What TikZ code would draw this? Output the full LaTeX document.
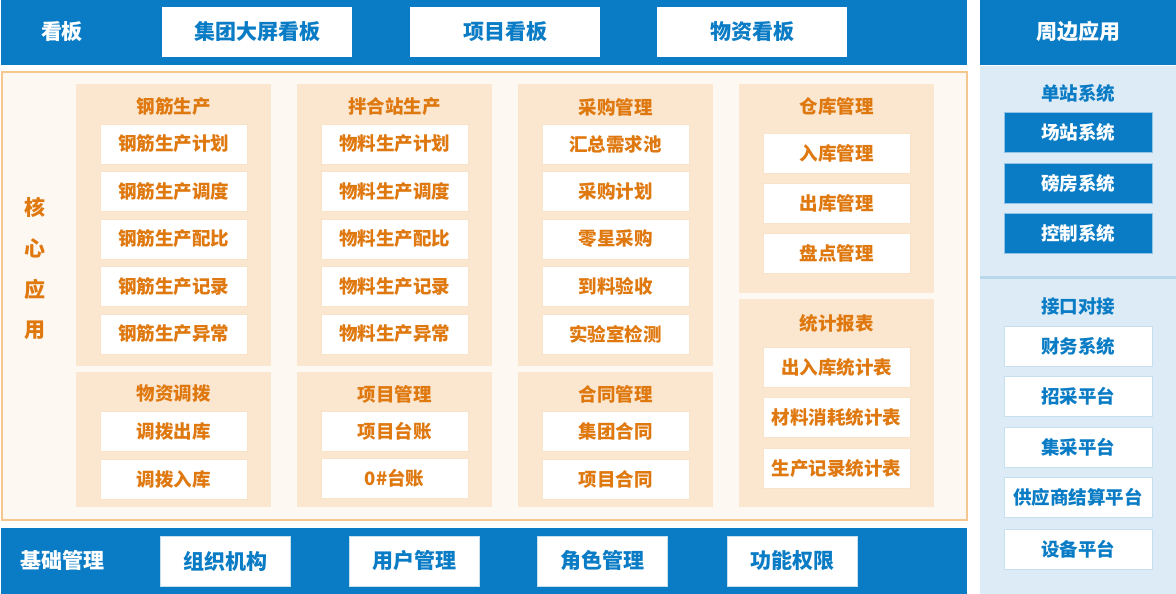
\documentclass[tikz,border=0pt]{standalone}
\usepackage{fontspec}
\setmainfont{Noto Sans CJK SC}
\definecolor{kblue}{HTML}{0A7CC5}
\definecolor{korange}{HTML}{DF780F}
\definecolor{kgroup}{HTML}{FBE7D0}
\definecolor{kcore}{HTML}{FDF8F1}
\definecolor{kcoreline}{HTML}{F5C68E}
\definecolor{kitemline}{HTML}{F8E2C8}
\definecolor{klight}{HTML}{DCEBF5}
\definecolor{ksep}{HTML}{B8D7EB}
\definecolor{kwline}{HTML}{C6DFEF}
\definecolor{kbline}{HTML}{8FC3E8}
\tikzset{
  x=1pt, y=-1pt,
  bigfont/.style={font=\fontsize{21}{24}\selectfont\bfseries},
  midfont/.style={font=\fontsize{18.5}{22}\selectfont\bfseries},
  bar/.style={fill=kblue, draw=none},
  topbox/.style={fill=white, draw=none, text=kblue, bigfont, minimum width=190pt, minimum height=50pt, inner sep=0pt},
  botbox/.style={fill=white, draw=kwline, line width=0.6pt, text=kblue, bigfont, minimum width=130pt, minimum height=50pt, inner sep=0pt},
  barlabel/.style={text=white, bigfont, inner sep=0pt},
  group/.style={fill=kgroup, draw=none},
  gtitle/.style={text=korange, midfont, inner sep=0pt},
  item/.style={fill=white, draw=kitemline, line width=0.6pt, text=korange, midfont, minimum width=147pt, minimum height=40pt, inner sep=0pt},
  bitem/.style={fill=kblue, draw=kbline, line width=0.6pt, text=white, midfont, minimum width=148pt, minimum height=40pt, inner sep=0pt},
  witem/.style={fill=white, draw=kwline, line width=0.6pt, text=kblue, midfont, minimum width=148pt, minimum height=40pt, inner sep=0pt},
  rtitle/.style={text=kblue, midfont, inner sep=0pt},
  vlabel/.style={text=korange, bigfont, inner sep=0pt},
}
\begin{document}
\begin{tikzpicture}
\useasboundingbox (0,0) rectangle (1176,594);
\fill[white] (0,0) rectangle (1176,594);

% top bar
\fill[bar] (1,0) rectangle (967,65);
\node[barlabel] (kanban) at (62,32) {看板};
\node[topbox] (t1) at (257,32) {集团大屏看板};
\node[topbox] (t2) at (505,32) {项目看板};
\node[topbox] (t3) at (752,32) {物资看板};

% right panel
\fill[bar] (980,0) rectangle (1176,65);
\node[barlabel] (zbyy) at (1078,32) {周边应用};
\fill[klight] (980,66) rectangle (1176,594);
\draw[ksep, line width=3pt] (980,277) -- (1176,277);
\node[rtitle] (dz) at (1078,93) {单站系统};
\node[bitem] (r1) at (1078,132) {场站系统};
\node[bitem] (r2) at (1078,183) {磅房系统};
\node[bitem] (r3) at (1078,233) {控制系统};
\node[rtitle] (jk) at (1078,306) {接口对接};
\node[witem] (r4) at (1078,346) {财务系统};
\node[witem] (r5) at (1078,396) {招采平台};
\node[witem] (r6) at (1078,447) {集采平台};
\node[witem] (r7) at (1078,497) {供应商结算平台};
\node[witem] (r8) at (1078,549) {设备平台};

% core area
\filldraw[fill=kcore, draw=kcoreline, line width=2pt] (2,72) rectangle (967,520);
\node[vlabel] (v1) at (35,207) {核};
\node[vlabel] (v2) at (35,248) {心};
\node[vlabel] (v3) at (35,289) {应};
\node[vlabel] (v4) at (35,330) {用};

% groups
\fill[group] (76,84) rectangle (271,366);
\fill[group] (297,84) rectangle (492,366);
\fill[group] (518,84) rectangle (713,366);
\fill[group] (739,84) rectangle (934,293);
\fill[group] (76,372) rectangle (271,507);
\fill[group] (297,372) rectangle (492,507);
\fill[group] (518,372) rectangle (713,507);
\fill[group] (739,299) rectangle (934,507);

% column 1
\node[gtitle] (g1) at (173.5,107) {钢筋生产};
\node[item] (a1) at (173.5,144) {钢筋生产计划};
\node[item] (a2) at (173.5,191.5) {钢筋生产调度};
\node[item] (a3) at (173.5,239) {钢筋生产配比};
\node[item] (a4) at (173.5,286.5) {钢筋生产记录};
\node[item] (a5) at (173.5,334) {钢筋生产异常};
\node[gtitle] (g5) at (173.5,394) {物资调拨};
\node[item] (e1) at (173.5,431.5) {调拨出库};
\node[item] (e2) at (173.5,479) {调拨入库};

% column 2
\node[gtitle] (g2) at (394.5,107) {拌合站生产};
\node[item] (b1) at (394.5,144) {物料生产计划};
\node[item] (b2) at (394.5,191.5) {物料生产调度};
\node[item] (b3) at (394.5,239) {物料生产配比};
\node[item] (b4) at (394.5,286.5) {物料生产记录};
\node[item] (b5) at (394.5,334) {物料生产异常};
\node[gtitle] (g6) at (394.5,394) {项目管理};
\node[item] (f1) at (394.5,431) {项目台账};
\node[item] (f2) at (394.5,478) {0\#台账};

% column 3
\node[gtitle] (g3) at (615.5,107) {采购管理};
\node[item] (c1) at (615.5,144) {汇总需求池};
\node[item] (c2) at (615.5,191.5) {采购计划};
\node[item] (c3) at (615.5,239) {零星采购};
\node[item] (c4) at (615.5,286.5) {到料验收};
\node[item] (c5) at (615.5,334) {实验室检测};
\node[gtitle] (g7) at (615.5,394) {合同管理};
\node[item] (h1) at (615.5,431.5) {集团合同};
\node[item] (h2) at (615.5,479) {项目合同};

% column 4
\node[gtitle] (g4) at (836.5,106) {仓库管理};
\node[item] (d1) at (836.5,153.5) {入库管理};
\node[item] (d2) at (836.5,203.5) {出库管理};
\node[item] (d3) at (836.5,253.5) {盘点管理};
\node[gtitle] (g8) at (836.5,323) {统计报表};
\node[item] (s1) at (836.5,367.5) {出入库统计表};
\node[item] (s2) at (836.5,417.5) {材料消耗统计表};
\node[item] (s3) at (836.5,468) {生产记录统计表};

% bottom bar
\fill[bar] (1,528) rectangle (967,594);
\node[barlabel] (jcgl) at (62,560) {基础管理};
\node[botbox] (m1) at (225,561) {组织机构};
\node[botbox] (m2) at (414,561) {用户管理};
\node[botbox] (m3) at (602,561) {角色管理};
\node[botbox] (m4) at (792,561) {功能权限};
\end{tikzpicture}
\end{document}
